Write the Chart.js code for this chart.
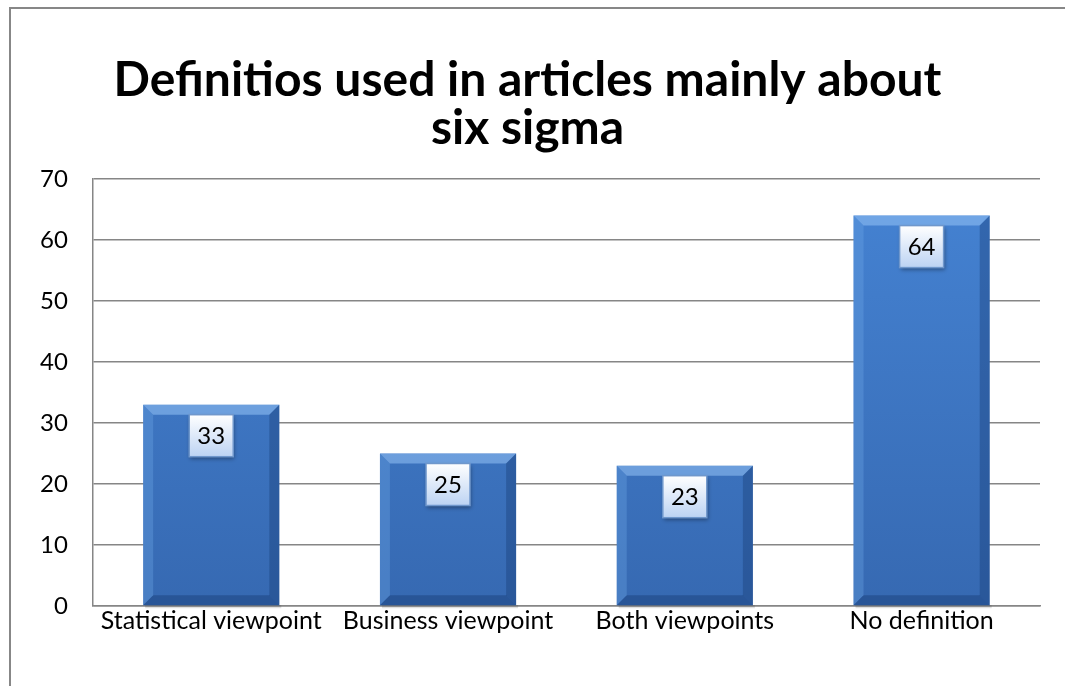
<!DOCTYPE html>
<html>
<head>
<meta charset="utf-8">
<script src="https://cdn.jsdelivr.net/npm/chart.js@4/dist/chart.umd.min.js"></script>
<style>
  html, body { margin: 0; padding: 0; background: #fff; overflow: hidden; width: 1065px; height: 686px; }
  #frame {
    position: absolute; left: 9px; top: 7px; right: 0; bottom: 0;
    border-top: 2px solid #878787; border-left: 2px solid #878787;
  }
  #wrap { position: absolute; left: 0; top: 0; width: 1065px; height: 686px; }
</style>
</head>
<body>
<div id="frame"></div>
<div id="wrap"><canvas id="myChart"></canvas></div>
<script>
// Data for the chart
var categories = ["Statistical viewpoint", "Business viewpoint", "Both viewpoints", "No definition"];
var counts = [33, 25, 23, 64];
var yTicks = [0, 10, 20, 30, 40, 50, 60, 70];
var titleLines = ["Definitios used in articles mainly about", "six sigma"];

var FONT = "Lato, Carlito, Calibri, sans-serif";

// bar fill: gradient down the bar
function barFill(ctx) {
  var chart = ctx.chart;
  var area = chart.chartArea;
  if (!area) return "#3b78c8";
  var g = chart.ctx.createLinearGradient(0, area.top, 0, area.bottom);
  g.addColorStop(0, "#4583d3");
  g.addColorStop(1, "#3669b2");
  return g;
}

// bevel edges + value boxes drawn on top of the bars
var bevelPlugin = {
  id: "bevel",
  afterDatasetsDraw: function (chart) {
    var c = chart.ctx;
    var meta = chart.getDatasetMeta(0);
    meta.data.forEach(function (bar, i) {
      var p = bar.getProps(["x", "y", "base", "width"], true);
      var l = p.x - p.width / 2, r = p.x + p.width / 2, t = p.y, b = p.base;
      var e = 10;
      c.save();
      // top bevel
      c.fillStyle = "rgba(150,195,245,0.55)";
      c.beginPath(); c.moveTo(l, t); c.lineTo(r, t); c.lineTo(r - e, t + e); c.lineTo(l + e, t + e); c.closePath(); c.fill();
      // left bevel
      c.fillStyle = "rgba(110,165,230,0.35)";
      c.beginPath(); c.moveTo(l, t); c.lineTo(l + e, t + e); c.lineTo(l + e, b - e); c.lineTo(l, b); c.closePath(); c.fill();
      // right bevel
      c.fillStyle = "rgba(20,55,110,0.35)";
      c.beginPath(); c.moveTo(r, t); c.lineTo(r - e, t + e); c.lineTo(r - e, b - e); c.lineTo(r, b); c.closePath(); c.fill();
      // bottom bevel
      c.fillStyle = "rgba(20,55,110,0.4)";
      c.beginPath(); c.moveTo(l, b); c.lineTo(l + e, b - e); c.lineTo(r - e, b - e); c.lineTo(r, b); c.closePath(); c.fill();
      // shadow under bar
      c.fillStyle = "rgba(0,0,0,0.12)";
      c.fillRect(l + 2, b, p.width, 3);

      // value box
      var bw = 44, bh = 42;
      var bx = p.x - bw / 2, by = t + 10;
      c.shadowColor = "rgba(0,0,0,0.35)";
      c.shadowBlur = 4; c.shadowOffsetX = 1; c.shadowOffsetY = 2;
      var g = c.createLinearGradient(0, by, 0, by + bh);
      g.addColorStop(0, "#ffffff");
      g.addColorStop(1, "#bcd3f3");
      c.fillStyle = g;
      c.fillRect(bx, by, bw, bh);
      c.shadowColor = "transparent";
      c.strokeStyle = "#6f97cc";
      c.lineWidth = 1.5;
      c.strokeRect(bx, by, bw, bh);
      c.fillStyle = "#000";
      c.font = "24px " + FONT;
      c.textAlign = "center";
      c.textBaseline = "middle";
      c.fillText(String(counts[i]), p.x, by + bh / 2 + 1);
      c.restore();
    });
  }
};

var data = {
  labels: categories,
  datasets: [{
    data: counts,
    backgroundColor: barFill,
    borderWidth: 0,
    categoryPercentage: 0.575,
    barPercentage: 1
  }]
};

var config = {
  type: "bar",
  data: data,
  plugins: [bevelPlugin],
  options: {
    responsive: true,
    maintainAspectRatio: false,
    animation: false,
    layout: { padding: { left: 15, right: 25, top: 57, bottom: 50 } },
    scales: {
      x: {
        grid: { display: false, drawTicks: false },
        border: { color: "#868686", width: 1.5 },
        ticks: { color: "#000", font: { family: FONT, size: 25 }, padding: 0 }
      },
      y: {
        min: 0,
        max: 70,
        afterBuildTicks: function (axis) {
          axis.ticks = yTicks.map(function (v) { return { value: v }; });
        },
        grid: { color: "#868686", lineWidth: 1.5, drawTicks: false },
        border: { color: "#868686", width: 1.5 },
        ticks: { color: "#000", font: { family: FONT, size: 24 }, padding: 25 }
      }
    },
    plugins: {
      legend: { display: false },
      tooltip: { enabled: false },
      title: {
        display: true,
        text: titleLines,
        color: "#000",
        font: { family: FONT, size: 48, weight: "bold", lineHeight: 1.0 },
        padding: { top: 0, bottom: 26 }
      }
    }
  }
};

// Create the chart
var ctx = document.getElementById("myChart").getContext("2d");
var myChart = new Chart(ctx, config);
</script>
</body>
</html>
